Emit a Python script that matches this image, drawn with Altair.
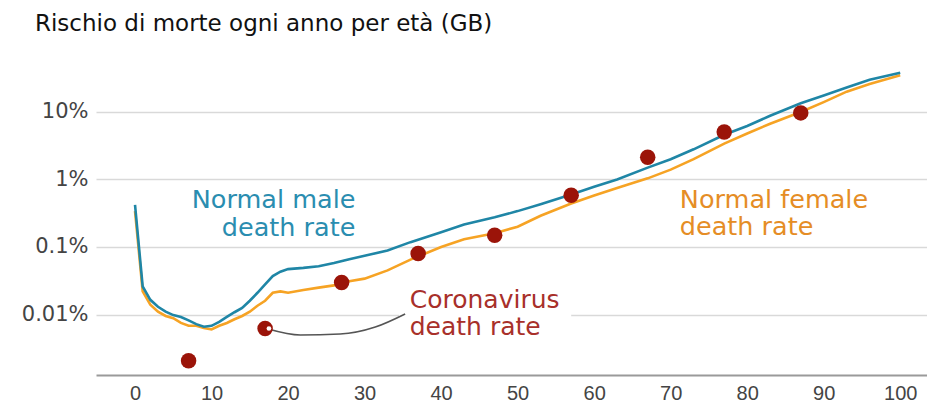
import altair as alt
import pandas as pd

# ---- data ----
ages = [0, 1, 2, 3, 4, 5, 6, 7, 8, 9, 10, 11, 12, 13, 14, 15, 16, 17, 18, 19, 20,
        22, 24, 26, 28, 30, 33, 36, 40, 43, 47, 50, 53, 57, 60, 63, 67, 70, 73, 77,
        80, 83, 87, 90, 93, 96, 100]
male_rate = [0.42, 0.026, 0.0165, 0.013, 0.011, 0.0098, 0.0092, 0.0082, 0.0072, 0.0066,
             0.0068, 0.0078, 0.0092, 0.0108, 0.0125, 0.016, 0.021, 0.028, 0.037, 0.043,
             0.047, 0.049, 0.052, 0.058, 0.066, 0.074, 0.089, 0.118, 0.165, 0.215, 0.275,
             0.34, 0.43, 0.6, 0.78, 1.0, 1.5, 2.0, 2.8, 4.6, 6.2, 8.8, 13.5, 17.5, 23, 30, 38]
female_rate = [0.34, 0.022, 0.014, 0.011, 0.0095, 0.0088, 0.0075, 0.0068, 0.0068, 0.0063,
               0.006, 0.0068, 0.0075, 0.0085, 0.0095, 0.011, 0.0135, 0.016, 0.021, 0.022,
               0.021, 0.023, 0.025, 0.027, 0.031, 0.034, 0.045, 0.065, 0.1, 0.13, 0.16,
               0.2, 0.29, 0.44, 0.58, 0.75, 1.04, 1.4, 2.0, 3.4, 4.8, 6.7, 10, 14, 20, 26, 35]

covid_ages = [7, 17, 27, 37, 47, 57, 67, 77, 87]
covid_rate = [0.00207, 0.0062, 0.0298, 0.080, 0.149, 0.585, 2.14, 5.04, 9.7]

x_ticks = [0, 10, 20, 30, 40, 50, 60, 70, 80, 90, 100]
y_ticks = [0.01, 0.1, 1, 10]

title_text = "Rischio di morte ogni anno per età (GB)"

# annotation labels: text, anchor age, rate of first line
male_label = "Normal male\ndeath rate"
female_label = "Normal female\ndeath rate"
covid_label = "Coronavirus\ndeath rate"
label_rate = 0.378
covid_label_rate = 0.0123

connector_ages = [17.4, 21.6, 26.8, 31.4, 35.3]
connector_rates = [0.0061, 0.00497, 0.00514, 0.00653, 0.0102]

# ---- tables ----
lines_df = pd.DataFrame({
    "age": ages * 2,
    "rate": female_rate + male_rate,
    "sex": ["female"] * len(ages) + ["male"] * len(ages),
    "order": list(range(len(ages))) * 2,
})
covid_df = pd.DataFrame({"age": covid_ages, "rate": covid_rate})
conn_df = pd.DataFrame({"age": connector_ages, "rate": connector_rates})

TEAL = "#1f86a6"
ORANGE = "#f6a324"
RED = "#9b1409"

xs = alt.Scale(domain=[-5.1, 103.5], nice=False, zero=False)
ys = alt.Scale(type="log", domain=[0.00127, 88.7], nice=False)

X = alt.X("age:Q", scale=xs,
          axis=alt.Axis(values=x_ticks, title=None, grid=False, ticks=False,
                        domainColor="#9a9a9a", domainWidth=2, labelFontSize=20,
                        labelColor="#444", labelPadding=8, labelFont="Liberation Sans"))
Y = alt.Y("rate:Q", scale=ys,
          axis=alt.Axis(values=y_ticks, title=None, domain=False, ticks=False,
                        grid=True, gridColor="#d9d9d9", gridWidth=1.5,
                        labelFontSize=21, labelColor="#444", labelPadding=8,
                        labelFont="DejaVu Sans",
                        labelExpr="datum.value + '%'"))

base_lines = alt.Chart(lines_df).mark_line(strokeWidth=2.6).encode(
    x=X, y=Y,
    color=alt.Color("sex:N", scale=alt.Scale(domain=["female", "male"],
                                              range=[ORANGE, TEAL]), legend=None),
    detail="sex:N",
    order="order:Q",
)

mask = alt.Chart(pd.DataFrame({"a": [34.5], "a2": [57.0], "r": [0.0085], "r2": [0.0125]})).mark_rect(
    color="white").encode(
    x=alt.X("a:Q", scale=xs), x2="a2:Q",
    y=alt.Y("r:Q", scale=ys), y2="r2:Q")

connector = alt.Chart(conn_df).mark_line(color="#555", strokeWidth=1.6,
                                         interpolate="monotone").encode(
    x=alt.X("age:Q", scale=xs), y=alt.Y("rate:Q", scale=ys))

dots = alt.Chart(covid_df).mark_circle(size=240, color=RED, opacity=1).encode(
    x=alt.X("age:Q", scale=xs), y=alt.Y("rate:Q", scale=ys))

hole = alt.Chart(pd.DataFrame({"age": [covid_ages[1] + 0.5], "rate": [covid_rate[1]]})).mark_circle(
    size=22, color="white", opacity=1).encode(
    x=alt.X("age:Q", scale=xs), y=alt.Y("rate:Q", scale=ys))


def label_layer(text, rate, age, align, color, line_height, size=25.5):
    df = pd.DataFrame({"t": [text], "rate": [rate], "age": [age]})
    return alt.Chart(df).mark_text(align=align, baseline="alphabetic", fontSize=size,
                                   font="DejaVu Sans", color=color, lineBreak="\n",
                                   lineHeight=line_height).encode(
        x=alt.X("age:Q", scale=xs), y=alt.Y("rate:Q", scale=ys), text="t:N")


male_txt = label_layer(male_label, label_rate, 28.8, "right", "#2a8db0", 28)
female_txt = label_layer(female_label, label_rate, 71.2, "left", "#e58d25", 27)
covid_txt = label_layer(covid_label, covid_label_rate, 35.9, "left", "#a8302a", 27, 25)

title = alt.Chart(pd.DataFrame({"t": [title_text]})).mark_text(
    align="left", baseline="middle", fontSize=23, font="DejaVu Sans", color="#111").encode(
    x=alt.value(-61), y=alt.value(-24), text="t:N")

chart = alt.layer(
    mask, base_lines, connector, dots, hole, male_txt, female_txt, covid_txt, title
).properties(
    width=831, height=327,
    autosize=alt.AutoSizeParams(type="none"),
    padding={"left": 88, "top": 40, "right": 0, "bottom": 30},
).configure_view(stroke=None)

chart.save("out.html", embed_options={"renderer": "svg", "actions": False})
